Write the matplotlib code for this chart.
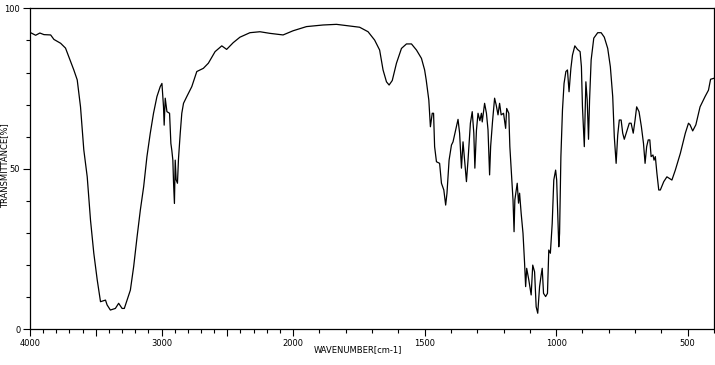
import numpy as np
import matplotlib
matplotlib.use('Agg')
import matplotlib.pyplot as plt
from matplotlib.ticker import FixedLocator, MultipleLocator

# wavenumber (cm-1) and transmittance (%)
wavenumber = [4000, 3957, 3925, 3894, 3843, 3818, 3767, 3730, 3705, 3667, 3641, 3616, 3591, 3565,
              3540, 3515, 3489, 3464, 3426, 3414, 3389, 3351, 3326, 3300, 3283, 3262, 3237, 3212,
              3186, 3161, 3136, 3111, 3086, 3061, 3035, 3010, 2997, 2985, 2980, 2972, 2959, 2939,
              2929, 2922, 2914, 2909, 2902, 2896, 2889, 2879, 2871, 2858, 2846, 2833, 2808, 2770,
              2732, 2682, 2644, 2593, 2542, 2505, 2455, 2404, 2328, 2252, 2177, 2076, 2000, 1949,
              1886, 1835, 1785, 1747, 1715, 1690, 1671, 1658, 1645, 1635, 1623, 1607, 1588, 1569,
              1550, 1531, 1512, 1500, 1494, 1484, 1478, 1471, 1466, 1462, 1455, 1443, 1436, 1427,
              1420, 1415, 1407, 1398, 1392, 1382, 1373, 1367, 1360, 1354, 1348, 1341, 1335, 1326,
              1319, 1313, 1309, 1303, 1297, 1290, 1284, 1281, 1272, 1265, 1259, 1253, 1249, 1242,
              1234, 1228, 1221, 1215, 1209, 1200, 1192, 1188, 1180, 1176, 1168, 1164, 1160, 1157,
              1148, 1143, 1139, 1133, 1126, 1120, 1116, 1112, 1104, 1095, 1089, 1082, 1076, 1070,
              1063, 1057, 1053, 1048, 1040, 1033, 1028, 1022, 1015, 1009, 1002, 998, 990, 987,
              982, 976, 970, 963, 957, 951, 944, 938, 929, 919, 909, 904, 900, 893, 887, 882, 877,
              873, 867, 857, 842, 829, 817, 804, 794, 785, 779, 772, 766, 760, 753, 747, 741, 732,
              722, 715, 707, 700, 694, 685, 676, 668, 662, 656, 650, 644, 639, 632, 628, 623, 617,
              610, 604, 591, 579, 560, 547, 528, 509, 497, 491, 481, 469, 453, 434, 421, 413, 400]
transmittance = [92.5, 91.6, 92.3, 91.8, 91.7, 90.3, 89.1, 87.6, 84.9, 80.8, 77.7, 69.3, 55.9, 47.5,
                 34.0, 23.7, 15.4, 8.6, 9.1, 7.6, 6.0, 6.5, 8.1, 6.5, 6.5, 9.1, 12.2, 19.5,
                 28.8, 37.2, 44.4, 53.8, 61.0, 67.3, 72.5, 75.6, 76.6, 69.3, 63.6, 72.0, 67.8, 67.3,
                 57.9, 55.8, 52.7, 46.0, 39.2, 52.7, 46.6, 45.5, 53.2, 61.0, 67.3, 70.4, 72.5, 75.6,
                 80.3, 81.3, 82.9, 86.5, 88.3, 87.2, 89.3, 91.0, 92.4, 92.7, 92.2, 91.7, 93.0, 94.3,
                 94.8, 95.0, 94.5, 94.1, 92.7, 90.1, 87.0, 80.8, 77.1, 76.1, 77.5, 82.9, 87.5, 88.9,
                 88.9, 87.0, 84.4, 80.8, 77.7, 71.4, 63.1, 67.3, 67.3, 56.9, 52.2, 51.7, 45.5, 43.4,
                 38.7, 42.4, 52.7, 57.4, 58.4, 62.1, 65.4, 61.1, 50.2, 58.4, 52.7, 46.0, 52.7, 64.2,
                 67.8, 61.1, 50.2, 62.0, 67.3, 65.0, 67.3, 64.6, 70.4, 67.3, 62.1, 48.1, 57.0, 64.6,
                 72.0, 69.9, 66.8, 70.4, 66.8, 67.3, 62.6, 68.8, 67.3, 56.9, 45.5, 40.3, 30.4, 40.3,
                 45.5, 39.3, 42.4, 36.1, 29.9, 20.6, 13.3, 19.0, 15.4, 10.7, 20.0, 17.9, 7.0, 5.0,
                 13.3, 16.9, 19.0, 11.2, 10.2, 11.2, 24.7, 23.7, 33.0, 46.5, 49.6, 46.5, 25.7, 29.9,
                 53.8, 68.3, 76.6, 80.3, 80.8, 74.0, 81.3, 85.4, 88.3, 87.2, 86.5, 81.8, 69.3, 56.9,
                 77.1, 71.4, 59.2, 71.4, 83.9, 90.7, 92.4, 92.4, 91.0, 87.5, 81.8, 72.5, 60.0, 51.7,
                 60.5, 65.2, 65.2, 61.1, 59.2, 61.6, 64.2, 64.2, 61.1, 65.2, 69.3, 67.8, 63.1, 57.9,
                 51.7, 56.9, 59.0, 59.0, 53.8, 54.3, 52.7, 53.8, 48.6, 43.4, 43.4, 46.0, 47.5, 46.5,
                 49.6, 54.8, 61.1, 64.2, 63.7, 61.8, 63.7, 69.3, 72.5, 74.5, 77.9, 78.2]

x_ticks = [4000, 3500, 3000, 2500, 2000, 1500, 1000, 500]
x_labels = ['4000', '', '3000', '', '2000', '1500', '1000', '500']
y_ticks = [0, 50, 100]


# scale doubles below 2000 cm-1
def fwd(w):
    w = np.asarray(w, dtype=float)
    return np.where(w >= 2000, w, 2 * w - 2000)


def inv(x):
    x = np.asarray(x, dtype=float)
    return np.where(x >= 2000, x, (x + 2000) / 2)


fig = plt.figure(figsize=(7.15, 3.65), dpi=100)
ax = fig.add_axes([30 / 715, 1 - 329.3 / 365, 684 / 715, 321 / 365])
ax.plot(wavenumber, transmittance, color='black', linewidth=0.9)
ax.set_xscale('function', functions=(fwd, inv))
ax.set_xlim(4000, 400)
ax.set_ylim(0, 100)

ax.xaxis.set_major_locator(FixedLocator(x_ticks))
ax.set_xticklabels(x_labels)
ax.xaxis.set_minor_locator(FixedLocator(list(range(400, 4001, 100))))
ax.yaxis.set_major_locator(FixedLocator(y_ticks))
ax.yaxis.set_minor_locator(MultipleLocator(10))
ax.tick_params(which='major', direction='out', length=5, width=0.8, labelsize=6, pad=2)
ax.tick_params(which='minor', direction='out', length=3, width=0.8)
for s in ax.spines.values():
    s.set_linewidth(0.9)

ax.set_xlabel('WAVENUMBER[cm-1]', fontsize=6)
ax.xaxis.set_label_coords(0.48, -0.05)
ax.set_ylabel('TRANSMITTANCE[%]', fontsize=6)
ax.yaxis.set_label_coords(-0.031, 0.51)

fig.savefig('out.png', dpi=100)
